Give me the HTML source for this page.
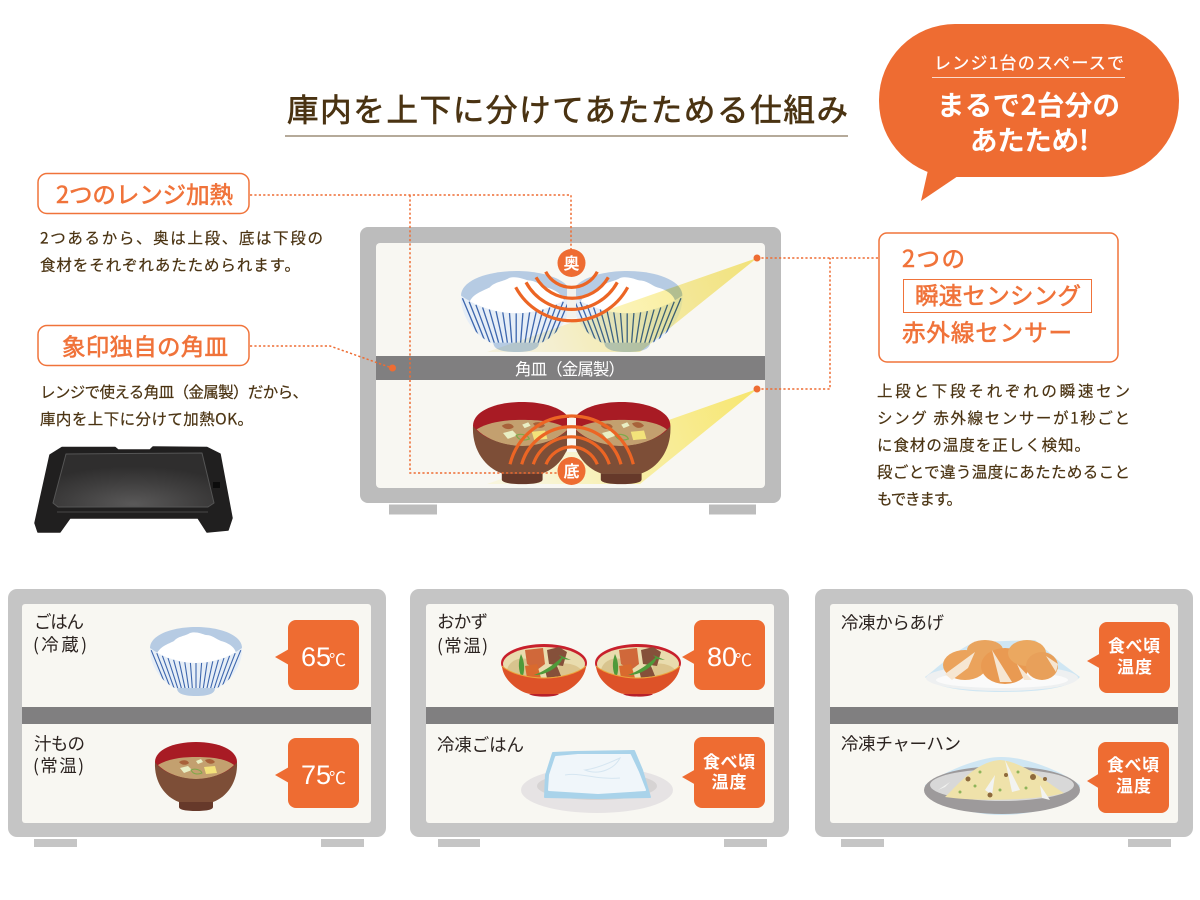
<!DOCTYPE html>
<html lang="ja">
<head>
<meta charset="utf-8">
<title>庫内を上下に分けてあたためる仕組み</title>
<style>
html,body{margin:0;padding:0;background:#fff;width:1200px;height:900px;overflow:hidden}
svg{display:block}
text{font-family:"Liberation Sans","Noto Sans CJK JP",sans-serif}
.jp{font-family:"Noto Sans CJK JP","Liberation Sans",sans-serif}
.b{font-family:"Noto Sans CJK JP","Liberation Sans",sans-serif;fill:#4a3312;font-size:15.500px;stroke:#4a3312;stroke-width:.2}
.o{font-family:"Noto Sans CJK JP","Liberation Sans",sans-serif;fill:#f0733a;font-size:23.500px;stroke:#f0733a;stroke-width:.6}
.k{font-family:"Noto Sans CJK JP","Liberation Sans",sans-serif;fill:#2b2320;font-size:17.500px}
.w{fill:#fff;font-size:17px;font-weight:700}
.t{fill:#fff;font-size:27px}
.d{fill:none;stroke:#ee6c32;stroke-width:1.500;stroke-dasharray:2.200 2.200}
.a{fill:none;stroke:#ec6524;stroke-width:3.200;stroke-linecap:butt}
</style>
</head>
<body>
<svg width="1200" height="900" viewBox="0 0 1200 900" xmlns="http://www.w3.org/2000/svg">
<defs>
  <clipPath id="rb"><path d="M0,21C12,30 30,36 46,36C62,36 80,30 92,21C93,38 80,56 65,62L27,62C12,56 -1,38 0,21Z"/></clipPath>
  <g id="rice">
    <path d="M0,21C0,8 22,0 46,0C70,0 92,8 92,21C80,30 62,36 46,36C30,36 12,30 0,21Z" fill="#b6cbe3"/>
    <path d="M7,27C9,20 18,17 24,14C28,9 36,9 40,6C46,4 52,7 56,8C62,8 66,12 71,14C79,16 86,21 86,27C72,34 60,36 46,36C30,36 16,32 7,27Z" fill="#fff"/>
    <path d="M0,21C12,30 30,36 46,36C62,36 80,30 92,21C93,38 80,56 65,62L27,62C12,56 -1,38 0,21Z" fill="#e6eef7"/>
    <g clip-path="url(#rb)" stroke="#3d66ad" stroke-width="1.100" fill="none">
      <path d="M46,36V62M51.600,35.800L49.600,62M57.200,35.200L53.200,62M62.800,34.200L56.800,62M68.400,32.800L60.400,62M74,31L64,62M79.600,28.800L67.600,62M85.200,26.200L71.200,62M90.800,23.200L74.800,62"/>
      <path transform="translate(92,0) scale(-1,1)" d="M51.600,35.800L49.600,62M57.200,35.200L53.200,62M62.800,34.200L56.800,62M68.400,32.800L60.400,62M74,31L64,62M79.600,28.800L67.600,62M85.200,26.200L71.200,62M90.800,23.200L74.800,62"/>
    </g>
    <path d="M27,61L65,61C65,66 60,69 46,69C32,69 27,66 27,61Z" fill="#b6cbe3"/>
  </g>
  <g id="miso">
    <path d="M0,20C0,8 18,0 41,0C64,0 82,8 82,20C82,30 60,37 41,37C22,37 0,30 0,20Z" fill="#a81b24"/>
    <path d="M3,23C14,16 30,15 41,15C54,15 70,16 79,23C70,32 55,37 41,37C27,37 12,32 3,23Z" fill="#c3a06f"/>
    <path d="M24,20C28,17 33,18 34,21C31,24 26,23 24,20ZM50,18C54,16 58,17 60,20C57,23 52,22 50,18Z" fill="#a8623a"/>
    <path d="M41,19L46,17L48,20L43,22ZM25,26L33,24L37,28L29,31Z" fill="#e9efc4"/>
    <path d="M49,25L60,24L62,31L51,32Z" fill="#f3e27a"/>
    <path d="M36,28C40,26 46,28 47,31C42,33 38,32 36,28Z" fill="none" stroke="#7fa94a" stroke-width="1"/>
    <path d="M0,20C6,30 26,37 41,37C56,37 76,30 82,20C83,40 72,55 58,60L24,60C10,55 -1,40 0,20Z" fill="#7d4e37"/>
    <path d="M24,60L58,60L58,65C58,68 50,69 41,69C32,69 24,68 24,65Z" fill="#66392a"/>
  </g>
  <g id="nimono">
    <ellipse cx="43" cy="19" rx="43" ry="19" fill="#c8202c"/>
    <ellipse cx="43" cy="20" rx="41" ry="17" fill="#e9dcae"/>
    <path d="M6,26C8,16 20,12 30,16L34,34L14,32Z" fill="#d8c48e"/>
    <path d="M58,20C68,18 78,22 80,26L70,33L56,34Z" fill="#dcc58e"/>
    <path d="M24,6L42,4L44,20L36,26L26,20Z" fill="#d0683a"/>
    <path d="M46,6L58,3L66,8L62,22L48,20Z" fill="#85503a"/>
    <path d="M24,22L36,20L40,34L26,34Z" fill="#d96a2e"/>
    <path d="M44,26L56,22L60,32L46,34Z" fill="#85503a"/>
    <path d="M20,10C24,18 24,28 21,34C17,26 17,18 20,10Z" fill="#4f9a3a"/>
    <path d="M33,31C42,28 54,20 62,12C62,20 46,32 33,31Z" fill="#4f9a3a"/>
    <path d="M58,11L70,16L62,15Z" fill="#4f9a3a"/>
    <path d="M1,22C10,30 28,34 43,34C58,34 76,30 85,22C84,38 64,50 56,50L30,50C22,50 2,38 1,22Z" fill="#dd5228"/>
    <path d="M1,22C10,30 28,34 43,34C58,34 76,30 85,22" fill="none" stroke="#eda33a" stroke-width="1"/>
    <path d="M28,50L58,50C55,53.500 32,53.500 28,50Z" fill="#b8202a"/>
  </g>
  <linearGradient id="beam1" gradientUnits="userSpaceOnUse" x1="757" y1="258" x2="530" y2="352">
    <stop offset="0" stop-color="#f9ea80"/><stop offset=".6" stop-color="#fbf3b8"/><stop offset="1" stop-color="#fbf8e6"/>
  </linearGradient>
  <linearGradient id="beam2" gradientUnits="userSpaceOnUse" x1="757" y1="389" x2="530" y2="484">
    <stop offset="0" stop-color="#f7e66f"/><stop offset=".6" stop-color="#f8efa8"/><stop offset="1" stop-color="#f8f5dc"/>
  </linearGradient>
  <radialGradient id="tray" cx=".5" cy=".95" r=".7">
    <stop offset="0" stop-color="#5a5959"/><stop offset=".6" stop-color="#3f3e3e"/><stop offset="1" stop-color="#2f2e2e"/>
  </radialGradient>
</defs>

<rect width="1200" height="900" fill="#fff"/>

<!-- title -->
<text x="287" y="121" class="jp" font-size="31.500" fill="#4a3312" stroke="#4a3312" stroke-width=".7" textLength="561">庫内を上下に分けてあたためる仕組み</text>
<rect x="285" y="135.500" width="563" height="1" fill="#6b5636"/>

<!-- speech bubble -->
<rect x="879" y="24" width="300" height="153" rx="76" fill="#ee6c32"/>
<path d="M928,170L921,201L958,176Z" fill="#ee6c32"/>
<text x="934" y="69" class="jp" font-size="17" fill="#fff" stroke="#fff" stroke-width=".3" textLength="190">レンジ1台のスペースで</text>
<rect x="932" y="77" width="193" height="1" fill="#fff" opacity=".75"/>
<text x="937" y="115" class="jp" font-size="27.500" font-weight="700" fill="#fff" textLength="183">まるで2台分の</text>
<text x="970" y="150" class="jp" font-size="27.500" font-weight="700" fill="#fff" textLength="119">あたため!</text>

<!-- left labels -->
<rect x="38" y="173.500" width="211" height="40" rx="9" fill="#fff" stroke="#f0733a" stroke-width="1.500"/>
<text x="56" y="203" class="o" textLength="177">2つのレンジ加熱</text>
<text x="40" y="243.500" class="b" textLength="283">2つあるから、奥は上段、底は下段の</text>
<text x="40" y="270.500" class="b" textLength="260">食材をそれぞれあたためられます。</text>
<rect x="38" y="325.500" width="211" height="40" rx="9" fill="#fff" stroke="#f0733a" stroke-width="1.500"/>
<text x="62" y="355" class="o" textLength="166">象印独自の角皿</text>
<text x="40" y="397.500" class="b" textLength="268">レンジで使える角皿（金属製）だから、</text>
<text x="40" y="424.500" class="b" textLength="213">庫内を上下に分けて加熱OK。</text>

<!-- tray -->
<path d="M62,447.500L115,447.500L118,450L150,450L153,447L207,447.500L220,454L232,518L228,530L207,532L198,518L70,518L60,532L38,532L35,523L50,455Z" fill="#201f1f" stroke="#201f1f" stroke-width="1.500" stroke-linejoin="round"/>
<path d="M66,454L202,453L214,503L208,507L58,507L53,503Z" fill="url(#tray)" stroke="#555" stroke-width="1" stroke-linejoin="round"/>
<path d="M57,512H208" stroke="#3b3a3a" stroke-width="1.500"/>
<rect x="213" y="482" width="7" height="6" fill="#0c0c0c"/>

<!-- main oven -->
<rect x="360" y="227" width="421" height="276" rx="8" fill="#bcbcbc"/>
<rect x="376" y="243" width="389" height="245" rx="4" fill="#f8f7f2"/>
<rect x="389" y="504.500" width="48" height="10" fill="#bcbcbc"/>
<rect x="709" y="504.500" width="47" height="10" fill="#bcbcbc"/>

<!-- lower beam behind bowls -->
<path d="M757,389L487,484L640,484Z" fill="url(#beam2)"/>

<!-- bowls -->
<use href="#rice" transform="translate(461,271) scale(1.2,1.174)"/>
<use href="#rice" transform="translate(572,271) scale(1.2,1.174)"/>
<path d="M757,258L487,352L640,352Z" fill="url(#beam1)" style="mix-blend-mode:multiply"/>
<use href="#miso" transform="translate(473,402) scale(1.2,1.19)"/>
<use href="#miso" transform="translate(572,402) scale(1.2,1.19)"/>

<!-- shelf -->
<rect x="376" y="356" width="389" height="24" fill="#807f80"/>
<text x="515" y="375" class="jp" font-size="16.500" fill="#fff" textLength="110">角皿（金属製）</text>

<!-- center strips -->
<rect x="567" y="288" width="9" height="30" fill="#f3f2ec"/>
<rect x="567" y="418" width="9" height="40" fill="#f8f7f2"/>
<path d="M558,466L566,452H577L585,466Z" fill="#f8f3d0"/>

<!-- wave arcs top -->
<path class="a" d="M545.700,271.700A29.100,29.100 0 0 0 597.300,271.700"/>
<path class="a" d="M536,277.300A41.700,41.700 0 0 0 608.300,277.300"/>
<path class="a" d="M526,282.300A52,52 0 0 0 617.300,282.300"/>
<path class="a" d="M515.700,287.300A63.600,63.600 0 0 0 627.700,287.300"/>
<!-- wave arcs bottom -->
<path class="a" d="M546,464.300A27.600,27.600 0 0 1 597.300,464.300"/>
<path class="a" d="M533.300,464.300A40,40 0 0 1 609.300,464.300"/>
<path class="a" d="M521.700,464.300A51.600,51.600 0 0 1 621,464.300"/>
<path class="a" d="M510,464.300A63.500,63.500 0 0 1 633.300,464.300"/>

<!-- connectors -->
<path class="d" d="M250,195H571V250"/>
<path class="d" d="M410,195V473H558"/>
<path class="d" d="M250,346H330L392,368"/>
<path class="d" d="M757,258H878"/>
<path class="d" d="M757,389H830V258"/>
<circle cx="392.500" cy="368" r="3.500" fill="#ee6c32"/>
<circle cx="757" cy="258" r="3.500" fill="#ee6c32"/>
<circle cx="757" cy="389" r="3.500" fill="#ee6c32"/>

<circle cx="571.500" cy="263" r="14" fill="#ee6c32"/>
<text x="571.500" y="269" class="jp" font-size="16" font-weight="700" fill="#fff" text-anchor="middle">奥</text>
<circle cx="571.500" cy="471" r="14" fill="#ee6c32"/>
<text x="571.500" y="477" class="jp" font-size="16" font-weight="700" fill="#fff" text-anchor="middle">底</text>

<!-- right box -->
<rect x="879" y="233" width="239" height="129" rx="8" fill="#fff" stroke="#f0733a" stroke-width="1.500"/>
<text x="902" y="267" class="o" textLength="63">2つの</text>
<rect x="903.500" y="279.500" width="188" height="33" fill="#fff" stroke="#f0733a" stroke-width="1"/>
<text x="915" y="304" class="o" textLength="166">瞬速センシング</text>
<text x="902" y="341" class="o" textLength="170">赤外線センサー</text>

<text x="877" y="396.500" class="b" textLength="253">上段と下段それぞれの瞬速セン</text>
<text x="877" y="423.500" class="b" textLength="253">シング 赤外線センサーが1秒ごと</text>
<text x="877" y="450.500" class="b" textLength="213">に食材の温度を正しく検知。</text>
<text x="877" y="477.500" class="b" textLength="253">段ごとで違う温度にあたためること</text>
<text x="877" y="504.500" class="b" textLength="85">もできます。</text>

<!-- bottom oven 1 -->
<rect x="8" y="589" width="378" height="248" rx="9" fill="#c5c5c5"/>
<rect x="22" y="604" width="349" height="219" rx="3" fill="#f8f7f2"/>
<rect x="22" y="707" width="349" height="17" fill="#807f80"/>
<rect x="34" y="839" width="43" height="8" fill="#c5c5c5"/>
<rect x="321" y="839" width="43" height="8" fill="#c5c5c5"/>
<text x="34" y="628" class="k" textLength="50">ごはん</text>
<text x="33" y="651" class="k" textLength="54">(冷蔵)</text>
<text x="34" y="750" class="k" textLength="51">汁もの</text>
<text x="33" y="772" class="k" textLength="51">(常温)</text>
<use href="#rice" transform="translate(150,627)"/>
<use href="#miso" transform="translate(155,742)"/>
<path d="M275,657L289,649V665Z" fill="#ee6c32"/>
<rect x="288" y="620" width="71" height="70" rx="8" fill="#ee6c32"/>
<text x="301" y="666" class="t">65</text><text x="329" y="666" class="jp" font-size="17" fill="#fff">℃</text>
<path d="M275,775L289,767V783Z" fill="#ee6c32"/>
<rect x="288" y="738" width="71" height="70" rx="8" fill="#ee6c32"/>
<text x="301" y="784" class="t">75</text><text x="329" y="784" class="jp" font-size="17" fill="#fff">℃</text>

<!-- bottom oven 2 -->
<rect x="410" y="589" width="379" height="248" rx="9" fill="#c5c5c5"/>
<rect x="426" y="604" width="348" height="219" rx="3" fill="#f8f7f2"/>
<rect x="426" y="707" width="348" height="17" fill="#807f80"/>
<rect x="438" y="839" width="42" height="8" fill="#c5c5c5"/>
<rect x="724" y="839" width="43" height="8" fill="#c5c5c5"/>
<text x="437" y="628" class="k" textLength="51">おかず</text>
<text x="437" y="652" class="k" textLength="51">(常温)</text>
<text x="437" y="751" class="k" textLength="87">冷凍ごはん</text>
<use href="#nimono" transform="translate(501,644)"/>
<use href="#nimono" transform="translate(595,644)"/>
<ellipse cx="597" cy="790" rx="76" ry="23" fill="#e6e3e4"/>
<ellipse cx="597" cy="786" rx="60" ry="14" fill="#d6d3d3"/>
<path d="M553,753L575,752L634,751L642,770L650,797L598,798L545,797L546,775Z" fill="#a9d3ea" stroke="#a9d3ea" stroke-width="2" stroke-linejoin="round"/>
<path d="M556,757L578,755L630,755L638,772L645,790L598,793L549,790L550,775Z" fill="#f0f6fa" stroke="#f0f6fa" stroke-width="2" stroke-linejoin="round"/>
<path d="M585,770C600,768 615,760 620,758C615,768 600,776 585,770ZM565,775C580,772 595,780 620,778" fill="none" stroke="#d6e6f1" stroke-width="1"/>
<path d="M682,657L696,649V665Z" fill="#ee6c32"/>
<rect x="694" y="620" width="71" height="70" rx="8" fill="#ee6c32"/>
<text x="707" y="666" class="t">80</text><text x="735" y="666" class="jp" font-size="17" fill="#fff">℃</text>
<path d="M682,777L696,769V785Z" fill="#ee6c32"/>
<rect x="694" y="737" width="71" height="71" rx="8" fill="#ee6c32"/>
<text x="703" y="768" class="jp w" textLength="52">食べ頃</text>
<text x="711.500" y="788" class="jp w" textLength="35">温度</text>

<!-- bottom oven 3 -->
<rect x="815" y="589" width="378" height="248" rx="9" fill="#c5c5c5"/>
<rect x="830" y="604" width="348" height="219" rx="3" fill="#f8f7f2"/>
<rect x="830" y="707" width="348" height="17" fill="#807f80"/>
<rect x="841" y="839" width="43" height="8" fill="#c5c5c5"/>
<rect x="1128" y="839" width="43" height="8" fill="#c5c5c5"/>
<text x="841" y="629" class="k" textLength="103">冷凍からあげ</text>
<text x="841" y="750" class="k" textLength="120">冷凍チャーハン</text>

<!-- karaage -->
<path d="M925,677C935,670 955,650 975,642L1035,640L1060,662L1080,677C1070,688 1040,692 1002,692C965,692 935,688 925,677Z" fill="#cfe6f3"/>
<ellipse cx="1002" cy="678" rx="76" ry="13" fill="#eef0f1"/>
<ellipse cx="1002" cy="680" rx="66" ry="8" fill="#fafafa"/>
<ellipse cx="965" cy="665" rx="22" ry="15" fill="#eba35c"/>
<ellipse cx="985" cy="650" rx="18" ry="10" fill="#e9a45e"/>
<ellipse cx="1005" cy="666" rx="24" ry="18" fill="#e99a52"/>
<ellipse cx="1027" cy="653" rx="19" ry="13" fill="#eba860"/>
<ellipse cx="1042" cy="666" rx="16" ry="14" fill="#e8a05a"/>
<path d="M945,674L975,652L968,668L952,680ZM992,650L1012,682L1000,682ZM1017,664L1032,680L1024,680ZM1046,656L1058,664L1056,672Z" fill="#f6e6d2"/>

<!-- chahan -->
<path d="M925,785C950,768 985,756 1002,757C1025,757 1060,770 1080,785C1082,800 1040,815 1002,815C965,815 925,800 925,785Z" fill="#cfe6f3"/>
<ellipse cx="1002" cy="790" rx="78" ry="24" fill="#9d9a9b"/>
<ellipse cx="1002" cy="785" rx="72" ry="16" fill="#d8d8d8"/>
<path d="M945,797C958,785 975,762 1000,760C1025,762 1050,785 1064,793C1040,800 980,802 945,797Z" fill="#efe2aa"/>
<path d="M1005,760L1020,790L1012,792ZM985,790L995,775L992,795ZM1040,785L1050,800L1042,798ZM938,790L950,782L945,787Z" fill="#f2f3f1"/>
<g fill="#8e6a3c"><circle cx="968" cy="779" r="2.500"/><circle cx="1033" cy="777" r="3"/><circle cx="990" cy="795" r="2.500"/><circle cx="1045" cy="779" r="2"/><circle cx="1006" cy="775" r="2"/></g>
<g fill="#8fb45a"><circle cx="980" cy="772" r="1.500"/><circle cx="1018" cy="772" r="1.500"/><circle cx="960" cy="792" r="1.500"/><circle cx="1000" cy="790" r="1.500"/><circle cx="1026" cy="788" r="1.500"/><circle cx="975" cy="786" r="1.500"/></g>

<path d="M1087,661L1101,653V669Z" fill="#ee6c32"/>
<rect x="1099" y="622" width="71" height="71" rx="8" fill="#ee6c32"/>
<text x="1108" y="652" class="jp w" textLength="52">食べ頃</text>
<text x="1117" y="673" class="jp w" textLength="35">温度</text>
<path d="M1087,781L1100,773V789Z" fill="#ee6c32"/>
<rect x="1098" y="742" width="71" height="71" rx="8" fill="#ee6c32"/>
<text x="1107" y="771" class="jp w" textLength="52">食べ頃</text>
<text x="1116" y="792" class="jp w" textLength="35">温度</text>
</svg>
</body>
</html>
